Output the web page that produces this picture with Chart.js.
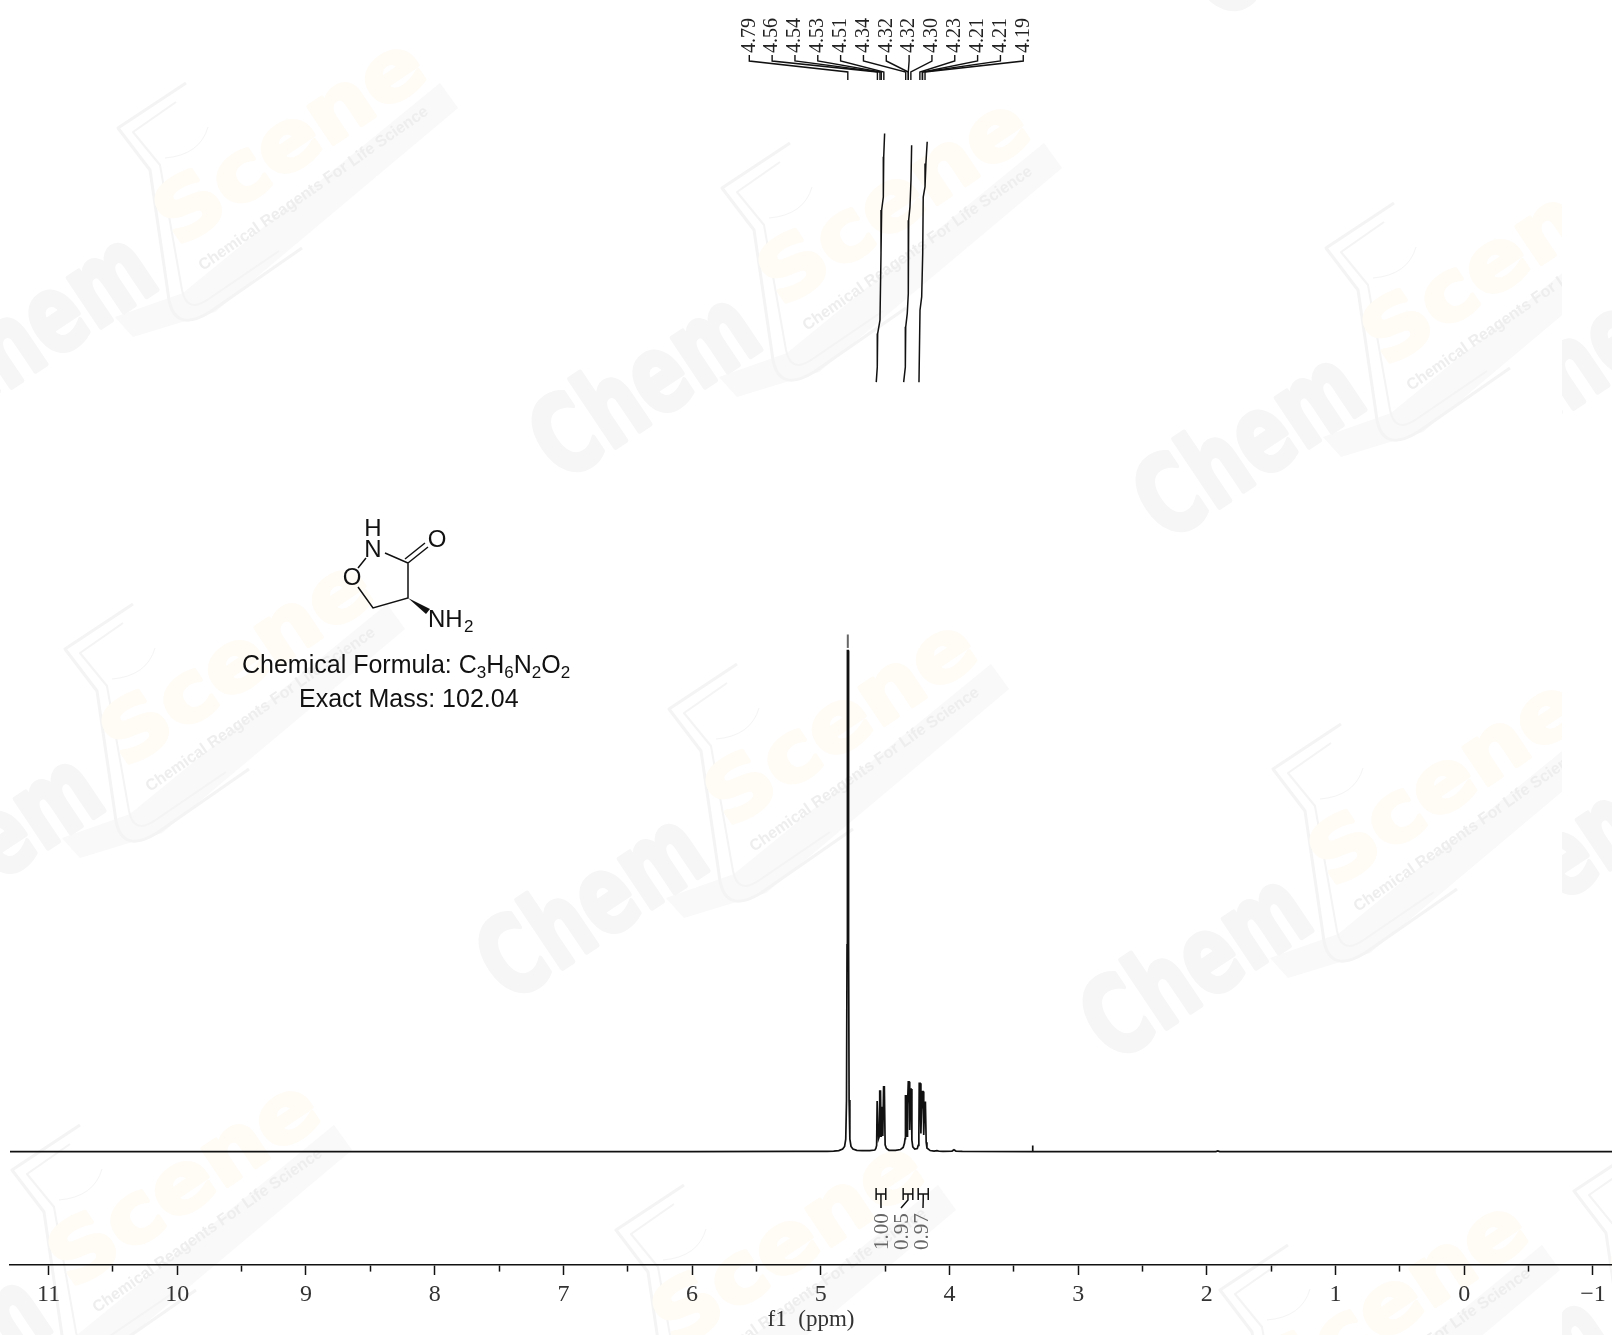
<!DOCTYPE html>
<html lang="en">
  <head>
    <meta charset="UTF-8" />
    <title>1H NMR spectrum</title>
    <script src="https://cdn.jsdelivr.net/npm/chart.js"></script>
    <style>
      html, body { margin: 0; background: #fff; }
      canvas { display: block; }
    </style>
  </head>
  <body>
    <canvas id="myChart" width="1612" height="1335"></canvas>
    <script>
      // spectrum: shift in ppm, height as % of the 4.79 peak
      const spectrumPpm = [
        11.3, 6.0, 5.2, 4.95, 4.9, 4.86, 4.83, 4.815, 4.806, 4.8, 4.796, 4.793,
        4.787, 4.784, 4.78, 4.774, 4.765, 4.75, 4.72, 4.68, 4.62, 4.58, 4.572,
        4.566, 4.562, 4.556, 4.551, 4.544, 4.542, 4.536, 4.531, 4.53, 4.524, 4.518, 4.512, 4.506, 4.5, 4.49,
        4.47, 4.42, 4.38, 4.36, 4.35, 4.345, 4.342, 4.335, 4.33, 4.326, 4.32, 4.314, 4.309, 4.304, 4.298,
        4.292, 4.285, 4.27, 4.25, 4.243, 4.238, 4.235, 4.228, 4.222, 4.217, 4.212, 4.211, 4.205, 4.2,
        4.193, 4.187, 4.181, 4.175, 4.15, 4.12, 4.097, 4.08, 4.05, 3.98, 3.965, 3.95, 3.9,
        3.357, 3.356, 3.352, 3.351, 1.93, 1.915, 1.9, -1.148,
      ];
      const spectrumLevel = [
        0, 0, 0.03, 0.06, 0.08, 0.2, 0.5, 1, 2.4, 10, 40, 96.9,
        96.9, 40, 10, 2.4, 1, 0.5, 0.25, 0.2, 0.2, 0.3, 0.6,
        1.2, 9.8, 9.8, 2.5, 3, 11.7, 11.7, 3, 8.5, 8.5, 3, 12.5, 12.5, 1.3, 0.6,
        0.25, 0.25, 0.4, 0.8, 1.6, 2.5, 10.8, 10.8, 3, 9, 13.5, 13.5, 4.2, 12.1, 12.1,
        2.2, 0.9, 0.5, 0.6, 1.2, 3, 13.2, 13.2, 3.5, 8.5, 8.5, 11.6, 11.6, 3.2,
        9.5, 9.5, 1.8, 0.7, 0.2, 0.08, 0.2, 0.07, 0.05, 0.1, 0.35, 0.1, 0.03,
        0, 1.2, 1.2, 0, 0, 0.12, 0, 0,
      ];
      const peakTipPpm = [4.79, 4.79];
      const peakTipLevel = [97.4, 100];

      // integral curves above the multiplets
      const integralAPpm = [4.504, 4.511, 4.514, 4.527, 4.532, 4.54, 4.558, 4.561, 4.569];
      const integralALevel = [196.9, 192.4, 184.6, 182.1, 173.7, 160.8, 158.2, 151.7, 148.8];
      const integralBPpm = [4.294, 4.299, 4.307, 4.317, 4.32, 4.328, 4.34, 4.343, 4.356];
      const integralBLevel = [194.6, 187.9, 182.7, 180.1, 165.9, 162.1, 159.5, 151.7, 148.8];
      const integralCPpm = [4.173, 4.183, 4.19, 4.204, 4.208, 4.216, 4.229, 4.237];
      const integralCLevel = [195.3, 191.1, 186.6, 184.6, 173.7, 165.3, 162.7, 148.8];

      const peakLabels = ["4.79", "4.56", "4.54", "4.53", "4.51", "4.34", "4.32", "4.32", "4.30", "4.23", "4.21", "4.21", "4.19"];
      const peakPositions = [4.79, 4.56, 4.54, 4.53, 4.51, 4.34, 4.32, 4.32, 4.3, 4.23, 4.21, 4.21, 4.19];

      const integralLabels = ["1.00", "0.95", "0.97"];
      const integralFrom = [4.57, 4.36, 4.243];
      const integralTo = [4.495, 4.285, 4.165];

      const xTickValues = [11, 10.5, 10, 9.5, 9, 8.5, 8, 7.5, 7, 6.5, 6, 5.5, 5, 4.5, 4, 3.5, 3, 2.5, 2, 1.5, 1, 0.5, 0, -0.5, -1];
      const xTickLabels = ["11", "", "10", "", "9", "", "8", "", "7", "", "6", "", "5", "", "4", "", "3", "", "2", "", "1", "", "0", "", "\u22121"];

      const toPoints = (xs, ys) => xs.map((x, i) => ({ x: x, y: ys[i] }));
      const lineSet = (xs, ys, color, width) => ({
        data: toPoints(xs, ys),
        borderColor: color,
        borderWidth: width,
        pointRadius: 0,
        showLine: true,
        tension: 0,
      });

      // one ChemScene watermark tile, offset from the first one
      function drawTile(ctx, ox, oy) {
        ctx.save();
        ctx.translate(ox, oy);

        ctx.fillStyle = "#f9f9f9";
        ctx.beginPath();
        ctx.moveTo(183, 293);
        ctx.lineTo(440, 83);
        ctx.lineTo(458, 108);
        ctx.lineTo(215, 312);
        ctx.lineTo(133, 337);
        ctx.lineTo(115, 317);
        ctx.closePath();
        ctx.fill();

        ctx.strokeStyle = "#f3f4f3";
        ctx.lineWidth = 3;
        ctx.lineJoin = "round";
        ctx.beginPath();
        ctx.moveTo(186, 83);
        ctx.lineTo(118, 128);
        ctx.lineTo(150, 170);
        ctx.lineTo(168, 293);
        ctx.quadraticCurveTo(172, 335, 210, 312);
        ctx.lineTo(302, 248);
        ctx.stroke();
        ctx.lineWidth = 2;
        ctx.beginPath();
        ctx.moveTo(176, 102);
        ctx.lineTo(133, 132);
        ctx.lineTo(160, 165);
        ctx.lineTo(182, 290);
        ctx.quadraticCurveTo(187, 315, 210, 298);
        ctx.lineTo(279, 251);
        ctx.stroke();
        ctx.lineWidth = 1;
        ctx.beginPath();
        ctx.moveTo(208, 127);
        ctx.quadraticCurveTo(200, 155, 165, 158);
        ctx.stroke();

        const angle = (-33.8 * Math.PI) / 180;
        ctx.textAlign = "left";
        ctx.textBaseline = "alphabetic";

        ctx.save();
        ctx.translate(-42, 423);
        ctx.rotate(angle);
        ctx.scale(0.72, 1);
        ctx.font = "bold 108px 'DejaVu Sans'";
        ctx.fillStyle = "#f6f6f6";
        ctx.strokeStyle = "#f6f6f6";
        ctx.lineWidth = 5;
        ctx.fillText("Chem", 0, 0);
        ctx.strokeText("Chem", 0, 0);
        ctx.restore();

        ctx.save();
        ctx.translate(178, 248);
        ctx.rotate(angle);
        ctx.scale(1.1, 1);
        ctx.font = "bold 82px 'DejaVu Sans'";
        ctx.fillStyle = "#fffbf5";
        ctx.strokeStyle = "#fffbf5";
        ctx.lineWidth = 4;
        ctx.fillText("Scene", 0, 0);
        ctx.strokeText("Scene", 0, 0);
        ctx.restore();

        ctx.save();
        ctx.translate(203, 271);
        ctx.rotate((-34.8 * Math.PI) / 180);
        ctx.font = "bold 16px 'Liberation Sans'";
        ctx.fillStyle = "#eeeeee";
        ctx.fillText("Chemical Reagents For Life Science", 0, 0);
        ctx.restore();

        ctx.restore();
      }

      function drawTileGrid(ctx, ox, oy) {
        for (let r = -1; r <= 2; r++) {
          for (let c = -1; c <= 2; c++) {
            drawTile(ctx, ox + c * 604 - r * 53, oy + r * 521 + c * 60);
          }
        }
      }

      const watermark = {
        id: "watermark",
        beforeDraw(chart) {
          const ctx = chart.ctx;
          ctx.save();
          ctx.fillStyle = "#ffffff";
          ctx.fillRect(0, 0, chart.width, chart.height);
          ctx.beginPath();
          ctx.rect(0, 0, 1562, chart.height);
          ctx.clip();
          drawTileGrid(ctx, 0, 0);
          ctx.restore();
          ctx.save();
          ctx.beginPath();
          ctx.rect(1562, 0, 50, chart.height);
          ctx.clip();
          drawTileGrid(ctx, 1562, 21);
          ctx.restore();
        },
      };

      function verticalText(ctx, text, x, y) {
        ctx.save();
        ctx.translate(x, y);
        ctx.rotate(-Math.PI / 2);
        ctx.fillText(text, 0, 0);
        ctx.restore();
      }

      // peak list on top, integral brackets under the baseline
      const annotations = {
        id: "annotations",
        afterDatasetsDraw(chart) {
          const ctx = chart.ctx;
          const xs = chart.scales.x;
          ctx.save();
          ctx.strokeStyle = "#111";
          ctx.lineWidth = 1.4;
          ctx.fillStyle = "#222";
          ctx.font = "20px 'Liberation Serif'";
          ctx.textAlign = "left";
          ctx.textBaseline = "middle";
          peakLabels.forEach((label, i) => {
            const lx = 749.3 + i * 22.83;
            const px = xs.getPixelForValue(peakPositions[i]);
            verticalText(ctx, label, lx, 53);
            ctx.beginPath();
            ctx.moveTo(lx, 55);
            ctx.lineTo(lx, 61);
            ctx.lineTo(px, 72);
            ctx.lineTo(px, 80);
            ctx.stroke();
          });

          const stemEnd = [881, 901, 923];
          const textX = [882, 902, 922];
          ctx.font = "21px 'Liberation Serif'";
          ctx.lineWidth = 1.5;
          integralLabels.forEach((label, i) => {
            const a = xs.getPixelForValue(integralFrom[i]);
            const b = xs.getPixelForValue(integralTo[i]);
            const mid = (a + b) / 2;
            ctx.beginPath();
            ctx.moveTo(a, 1188);
            ctx.lineTo(a, 1200);
            ctx.moveTo(b, 1188);
            ctx.lineTo(b, 1200);
            ctx.moveTo(a, 1194);
            ctx.lineTo(b, 1194);
            ctx.moveTo(mid, 1194);
            ctx.lineTo(mid, 1200);
            ctx.lineTo(stemEnd[i], 1208);
            ctx.stroke();
            ctx.fillStyle = "#666";
            verticalText(ctx, label, textX[i], 1250);
          });
          ctx.restore();
        },
      };

      function subscripted(ctx, parts, x, y) {
        parts.forEach((part, i) => {
          const sub = i % 2 === 1;
          ctx.font = sub ? "17px 'Liberation Sans'" : "25px 'Liberation Sans'";
          ctx.fillText(part, x, sub ? y + 5 : y);
          x += ctx.measureText(part).width;
        });
      }

      // the molecule and its two caption lines
      const molecule = {
        id: "molecule",
        afterDraw(chart) {
          const ctx = chart.ctx;
          ctx.save();
          ctx.strokeStyle = "#111";
          ctx.fillStyle = "#111";
          ctx.lineWidth = 1.5;
          ctx.beginPath();
          ctx.moveTo(385, 553);
          ctx.lineTo(408, 563);
          ctx.lineTo(408, 598);
          ctx.lineTo(373, 608);
          ctx.lineTo(358, 587);
          ctx.moveTo(358, 568);
          ctx.lineTo(366, 558);
          ctx.moveTo(408, 563);
          ctx.lineTo(428, 547);
          ctx.moveTo(405, 559);
          ctx.lineTo(425, 543);
          ctx.stroke();
          ctx.beginPath();
          ctx.moveTo(408, 598);
          ctx.lineTo(430, 609);
          ctx.lineTo(426, 614);
          ctx.closePath();
          ctx.fill();

          ctx.textAlign = "center";
          ctx.textBaseline = "middle";
          ctx.font = "24px 'Liberation Sans'";
          ctx.fillText("H", 373, 529);
          ctx.fillText("N", 373, 550);
          ctx.fillText("O", 437, 540);
          ctx.fillText("O", 352, 578);

          ctx.textAlign = "left";
          ctx.textBaseline = "alphabetic";
          ctx.fillText("NH", 428, 627);
          ctx.font = "17px 'Liberation Sans'";
          ctx.fillText("2", 464, 632);

          subscripted(ctx, ["Chemical Formula: C", "3", "H", "6", "N", "2", "O", "2"], 242, 673);
          subscripted(ctx, ["Exact Mass: 102.04"], 299, 707);
          ctx.restore();
        },
      };

      const config = {
        type: "scatter",
        data: {
          datasets: [
            lineSet(spectrumPpm, spectrumLevel, "#111", 1.7),
            lineSet(peakTipPpm, peakTipLevel, "#666", 2),
            lineSet(integralAPpm, integralALevel, "#111", 1.5),
            lineSet(integralBPpm, integralBLevel, "#111", 1.5),
            lineSet(integralCPpm, integralCLevel, "#111", 1.5),
          ],
        },
        options: {
          responsive: false,
          animation: false,
          devicePixelRatio: 1,
          layout: { padding: { left: 10, right: 0, top: 0, bottom: 0 } },
          plugins: { legend: { display: false }, tooltip: { enabled: false } },
          scales: {
            x: {
              type: "linear",
              reverse: true,
              min: -1.148,
              max: 11.3,
              afterBuildTicks: (scale) => {
                scale.ticks = xTickValues.map((v) => ({ value: v }));
              },
              afterFit: (scale) => {
                scale.height = 70;
              },
              border: { display: true, color: "#111", width: 1.6 },
              grid: {
                drawOnChartArea: false,
                drawTicks: true,
                tickLength: 10,
                tickColor: "#111",
                tickWidth: 1.5,
                tickBorderDash: (ctx) => (Number.isInteger(ctx.tick.value) ? [] : [6, 20]),
              },
              ticks: {
                autoSkip: false,
                maxRotation: 0,
                padding: 5,
                color: "#333",
                font: { family: "'Liberation Serif'", size: 24 },
                callback: (value, index) => xTickLabels[index],
              },
              title: {
                display: true,
                text: "f1  (ppm)",
                color: "#333",
                font: { family: "'Liberation Serif'", size: 23 },
                padding: { top: 0, bottom: 1 },
              },
            },
            y: { display: false, min: -21.93, max: 222.7 },
          },
        },
        plugins: [watermark, annotations, molecule],
      };
      const myChart = new Chart(document.getElementById("myChart"), config);
    </script>
  </body>
</html>
